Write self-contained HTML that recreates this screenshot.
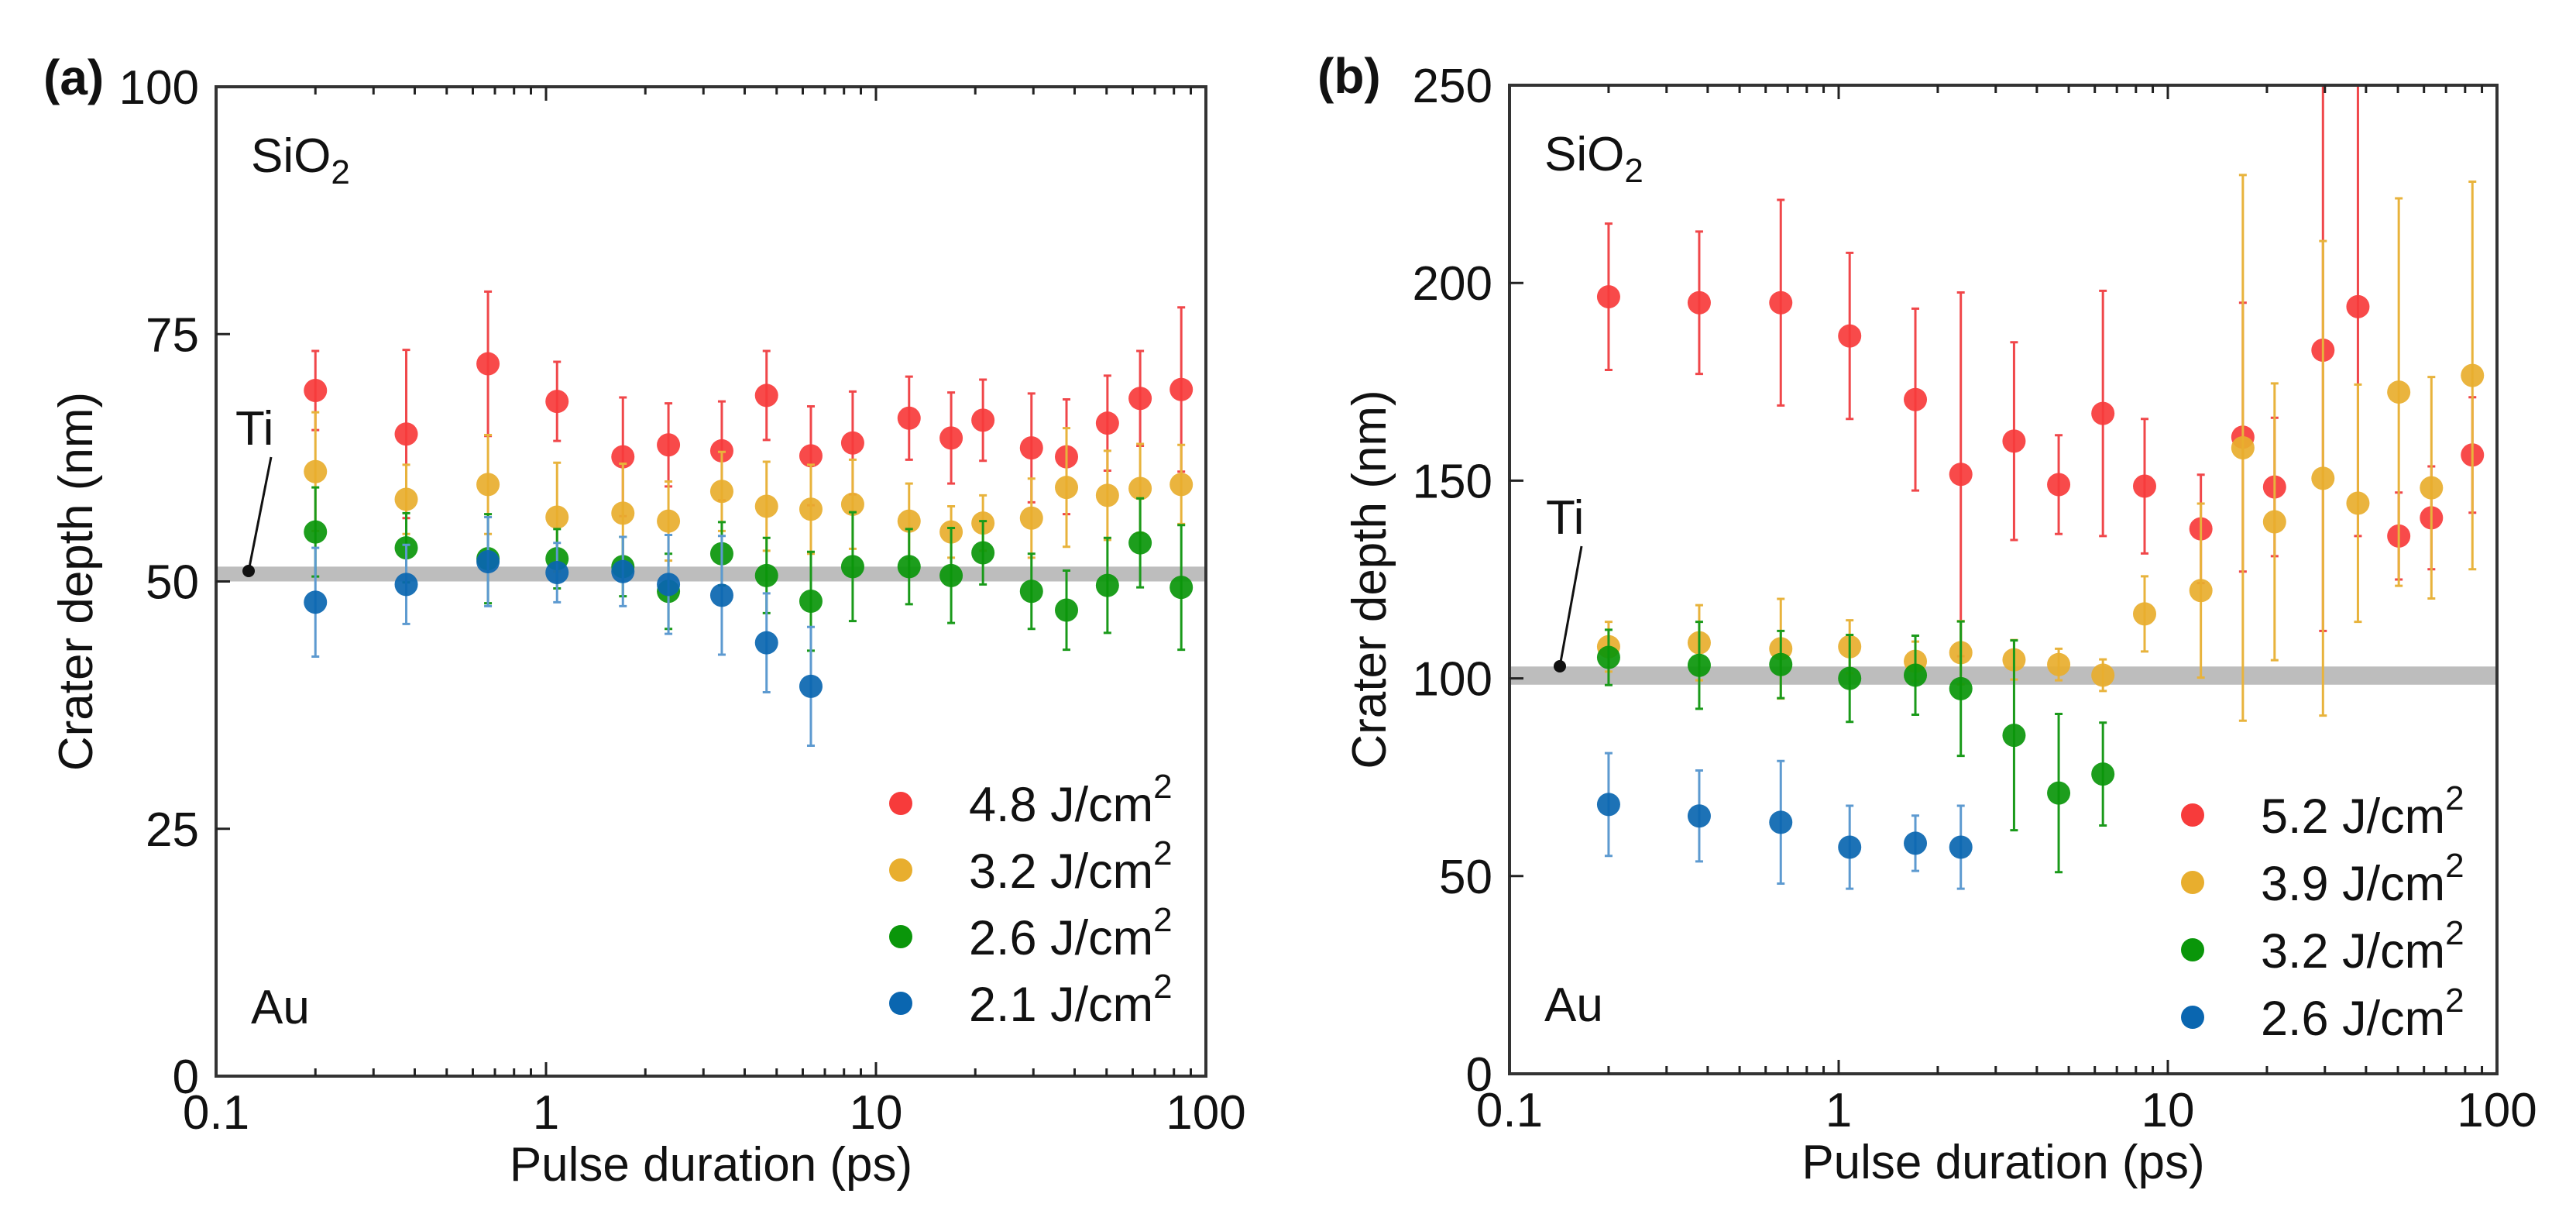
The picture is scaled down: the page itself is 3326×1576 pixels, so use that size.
<!DOCTYPE html>
<html><head><meta charset="utf-8"><style>
html,body{margin:0;padding:0;background:#fff;}
svg{display:block;font-family:"Liberation Sans",Arial,sans-serif;}
</style></head><body>
<svg id="fig" width="3326" height="1576" viewBox="0 0 3326 1576"></svg>
<script>
// shared x categories (pulse duration, ps)
const xVals = [0.20,0.377,0.667,1.08,1.71,2.35,3.41,4.66,6.35,8.5,12.6,16.9,21.1,29.6,37.8,50.3,63.2,84.2];
// panel a
const aRed = [69.3,64.9,72,68.2,62.6,63.8,63.2,68.8,62.7,64,66.5,64.5,66.3,63.5,62.6,66,68.5,69.4];
const aRedErr = [4,8.5,7.3,4,6,4.2,5,4.5,5,5.2,4.2,4.6,4.1,5.5,5.8,4.8,4.8,8.3];
const aYel = [61.1,58.3,59.8,56.5,56.9,56.1,59.1,57.6,57.3,57.8,56.1,55,55.9,56.4,59.5,58.7,59.4,59.8];
const aYelErr = [6,3.5,5,5.5,5,4,4,4.5,4.5,4.5,3.8,2.6,2.8,4,6,4.5,4.5,4];
const aGrn = [55,53.4,52.3,52.3,51.5,49,52.8,50.6,48,51.5,51.5,50.6,52.9,49,47.1,49.6,53.9,49.4];
const aGrnErr = [4.5,3.5,4.5,3,3,3.8,3.2,3.8,5,5.5,3.8,4.8,3.2,3.8,4,4.8,4.5,6.3];
const aBlu = [47.9,49.7,52,50.9,51,49.7,48.6,43.8,39.4];
const aBluErr = [5.5,4,4.5,3,3.5,5,6,5,6];
// panel b
const bRed = [196.5,195,195,186.6,170.5,151.6,160,149,167,148.6,137.8,161,148.4,183,194,136,140.6,156.5];
const bRedErr = [18.5,18,26,21,23,46,25,12.5,31,17,13.7,34,17.5,71,58,11,13,14.6];
const bYel = [108,109,107.5,108,104.3,106.5,104.7,103.5,100.8,116.3,122.2,158.3,139.6,150.6,144.3,172.4,148.2,176.6];
const bYelErr = [6.3,9.5,12.6,6.7,5,8,5,4,4,9.5,22,69,35,60,30,49,28,49];
const bGrn = [105.3,103.3,103.5,100,100.8,97.4,85.6,71,75.8];
const bGrnErr = [7,11,8.5,11,10,17,24,20,13];
const bBlu = [68.1,65.2,63.6,57.3,58.3,57.3];
const bBluErr = [13,11.5,15.5,10.5,7,10.5];
const aTicks = [0,25,50,75,100];
const bTicks = [0,50,100,150,200,250];
const xTickLabels = ["0.1","1","10","100"];
const aLegend = ["4.8","3.2","2.6","2.1"];
const bLegend = ["5.2","3.9","3.2","2.6"];

const NS="http://www.w3.org/2000/svg";
const svg=document.getElementById('fig');
function mk(tag,attrs,parent,text){const e=document.createElementNS(NS,tag);for(const k in attrs)e.setAttribute(k,attrs[k]);if(text!==undefined)e.textContent=text;(parent||svg).appendChild(e);return e;}
const COLORS=["#f73b3b","#e8ae2e","#0a960a","#0a66b0"];
const ECOL=["#f0474a","#e8b33c","#1a9a1a","#5d9ad0"];

function panel(p){
  const g=mk('g',{});
  
  
  const L=p.L,R=p.R,T=p.T,B=p.B;
  const xs=v=>L+(Math.log10(v)+1)/3*(R-L);
  const ys=v=>B-(v/p.ymax)*(B-T);
  const clip='clip'+p.id;
  const defs=mk('defs',{},g);const cp=mk('clipPath',{id:clip},defs);mk('rect',{x:L,y:T,width:R-L,height:B-T},cp);
  const band=mk('rect',{x:L,y:ys(p.band[1]),width:R-L,height:ys(p.band[0])-ys(p.band[1]),fill:"#bdbdbd"},g);
  
  
  const dg=mk('g',{'clip-path':'url(#'+clip+')'},g);
  p.series.forEach((s,si)=>{
    const sg=mk('g',{},dg);
    
    
    s.v.forEach((v,i)=>{
      const x=xs(xVals[i]),y1=ys(v+s.e[i]),y2=ys(v-s.e[i]);
      const eb=mk('path',{d:`M${x},${y1}V${y2}M${x-5},${y1}H${x+5}M${x-5},${y2}H${x+5}`,stroke:ECOL[si],'stroke-width':3,fill:'none'},sg);
      
      
      const c=mk('circle',{cx:x,cy:ys(v),r:15,fill:COLORS[si],'fill-opacity':0.92},sg);
      
      
    });
  });
  const fr=mk('rect',{x:L,y:T,width:R-L,height:B-T,fill:'none',stroke:'#333','stroke-width':4},g);
  
  
  let d='';
  for(let dec=0;dec<3;dec++){for(let m=1;m<=9;m++){const v=Math.pow(10,dec-1)*m;const x=xs(v);const len=m===1?18:10;if(m===1&&dec===0)continue;d+=`M${x},${B}V${B-len}M${x},${T}V${T+len}`;}}
  p.yt.forEach(v=>{if(v>0&&v<p.ymax)d+=`M${L},${ys(v)}H${L+18}`;});
  mk('path',{d:d,stroke:'#222','stroke-width':3,fill:'none'},g);
  xTickLabels.forEach((t,i)=>{const e=mk('text',{x:xs(Math.pow(10,i-1)),y:B+68,'text-anchor':'middle','font-size':62,fill:'#111'},g,t);
    
    });
  p.yt.forEach(v=>{const e=mk('text',{x:L-22,y:ys(v)+22,'text-anchor':'end','font-size':62,fill:'#111'},g,String(v));
    
    });
  const xt=mk('text',{x:(L+R)/2,y:B+135,'text-anchor':'middle','font-size':62,fill:'#111'},g,'Pulse duration (ps)');
  
  
  const yx=L-160,yy=(T+B)/2;
  const yt=mk('text',{x:yx,y:yy,'text-anchor':'middle','font-size':62,fill:'#111',transform:`rotate(-90 ${yx} ${yy})`},g,'Crater depth (nm)');
  
  
  const pl=mk('text',{x:p.lx,y:T+10,'font-size':64,'font-weight':'bold',fill:'#111'},g,'('+p.id+')');
  
  
  const si=mk('text',{x:L+45,y:T+110,'font-size':62,fill:'#111'},g);
  
  
  si.innerHTML='SiO<tspan font-size="44" dy="15">2</tspan>';
  const au=mk('text',{x:L+45,y:B-68,'font-size':62,fill:'#111'},g,'Au');
  
  
  const ti=mk('text',{x:p.ti[0]-10,y:p.ti[1]-16,'font-size':62,fill:'#111'},g,'Ti');
  
  
  mk('path',{d:`M${p.ti[0]+36},${p.ti[1]}L${p.dot[0]},${p.dot[1]}`,stroke:'#111','stroke-width':3},g);
  const dot=mk('circle',{cx:p.dot[0],cy:p.dot[1],r:8,fill:'#111'},g);
  
  
  const lg=mk('g',{},g);
  
  
  p.legend.forEach((t,i)=>{
    const y=p.legY+i*p.legDy;
    const c=mk('circle',{cx:p.legX,cy:y,r:15,fill:COLORS[i]},lg);
    
    
    const tx=mk('text',{x:p.legX+88,y:y+23,'font-size':63,fill:'#111'},lg);
    
    
    tx.innerHTML=t+' J/cm<tspan font-size="44" dy="-30">2</tspan>';
  });
}
panel({id:'a',L:279,R:1557,T:112,B:1389,ymax:100,yt:aTicks,band:[50,51.5],lx:56,
  series:[{v:aRed,e:aRedErr},{v:aYel,e:aYelErr},{v:aGrn,e:aGrnErr},{v:aBlu,e:aBluErr}],
  legend:aLegend,legX:1163,legY:1037,legDy:86,ti:[314,590],dot:[321,737]});
panel({id:'b',L:1949,R:3224,T:110,B:1386,ymax:250,yt:bTicks,band:[98.4,103],lx:1701,
  series:[{v:bRed,e:bRedErr},{v:bYel,e:bYelErr},{v:bGrn,e:bGrnErr},{v:bBlu,e:bBluErr}],
  legend:bLegend,legX:2831,legY:1052,legDy:87,ti:[2006,705],dot:[2014,860]});
</script>
</body></html>
